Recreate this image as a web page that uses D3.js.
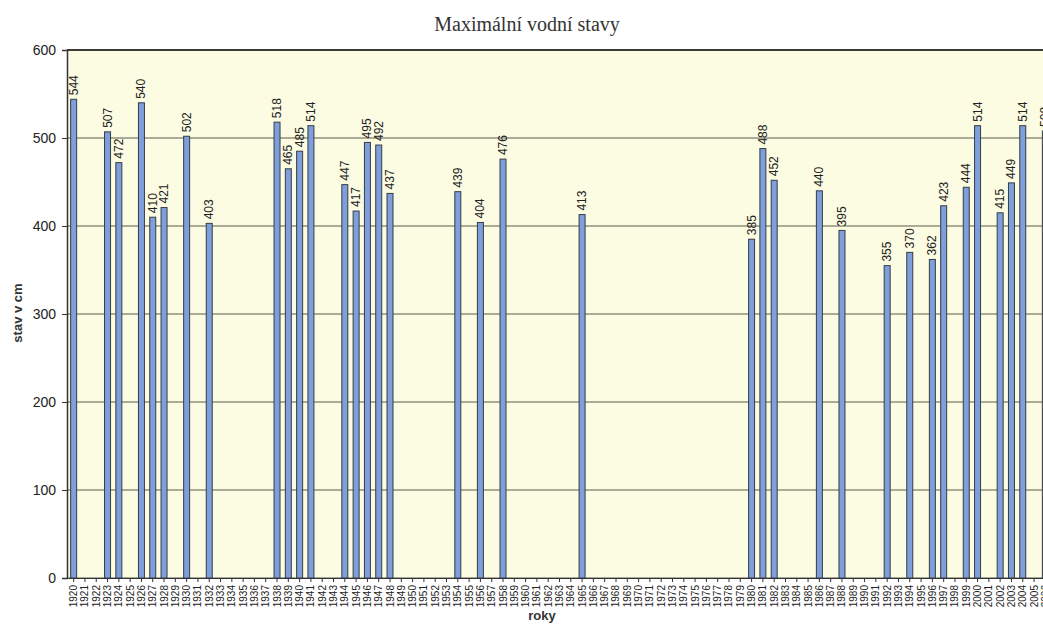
<!DOCTYPE html>
<html>
<head>
<meta charset="utf-8">
<script src="https://cdn.jsdelivr.net/npm/d3@7"></script>
<style>
  body { margin: 0; background: #fff; }
  svg { display: block; }
</style>
</head>
<body>
<svg class="chart" width="1043" height="625"></svg>
<script>
// years shown on the axis
var years = d3.range(1920, 2007);

// years that have a value and their maximal levels
var floodYears = [1920, 1923, 1924, 1926, 1927, 1928, 1930, 1932, 1938, 1939, 1940, 1941,
    1944, 1945, 1946, 1947, 1948, 1954, 1956, 1958, 1965, 1980, 1981, 1982,
    1986, 1988, 1992, 1994, 1996, 1997, 1999, 2000, 2002, 2003, 2004, 2006];
var levels = [544, 507, 472, 540, 410, 421, 502, 403, 518, 465, 485, 514,
    447, 417, 495, 492, 437, 439, 404, 476, 413, 385, 488, 452,
    440, 395, 355, 370, 362, 423, 444, 514, 415, 449, 514, 508];

var yTicks = [0, 100, 200, 300, 400, 500, 600];

var data = floodYears.map(function(y, i) { return {year: y, value: levels[i]}; });

var svg = d3.select("svg.chart");

// plot box (window.top is read-only, so own names)
var plotL = 67, plotT = 50, plotB = 578, plotR = 1051;

var x = d3.scaleBand()
    .domain(years)
    .range([plotL + 1, plotR])
    .paddingInner(0.47)
    .paddingOuter(0.235);

var y = d3.scaleLinear()
    .domain([0, 600])
    .range([plotB, plotT]);

// plot background
svg.append("rect")
    .attr("x", plotL).attr("y", plotT)
    .attr("width", plotR - plotL).attr("height", plotB - plotT)
    .attr("fill", "#fcfce2");

// gridlines
svg.append("g").selectAll("line")
    .data(yTicks)
    .enter().append("line")
    .attr("x1", plotL).attr("x2", plotR)
    .attr("y1", function(d) { return y(d); })
    .attr("y2", function(d) { return y(d); })
    .attr("stroke", function(d) { return d == 600 ? "#3c3c36" : "#5a5a4c"; })
    .attr("stroke-width", function(d) { return d == 600 ? 1.8 : 1; });

// bars
svg.append("g").selectAll("rect")
    .data(data)
    .enter().append("rect")
    .attr("x", function(d) { return x(d.year); })
    .attr("y", function(d) { return y(d.value); })
    .attr("width", x.bandwidth())
    .attr("height", function(d) { return y(0) - y(d.value); })
    .attr("fill", "#7f9fdb")
    .attr("stroke", "#363b48")
    .attr("stroke-width", 1);

// value labels
svg.append("g").selectAll("text")
    .data(data)
    .enter().append("text")
    .attr("transform", function(d) {
        return "translate(" + (x(d.year) + x.bandwidth() / 2 + 4) + "," + (y(d.value) - 4) + ") rotate(-90)";
    })
    .attr("font-family", "Liberation Sans, Arial, sans-serif")
    .attr("font-size", 12)
    .attr("fill", "#222")
    .text(function(d) { return d.value; });

// y axis
var yAxis = svg.append("g")
    .attr("transform", "translate(" + plotL + ",0)")
    .call(d3.axisLeft(y).tickValues(yTicks).tickSize(5).tickPadding(6));
yAxis.select(".domain").attr("stroke", "#333").attr("stroke-width", 1.5);
yAxis.selectAll(".tick line").attr("stroke", "#333");
yAxis.selectAll("text")
    .attr("font-family", "Liberation Sans, Arial, sans-serif")
    .attr("font-size", 14)
    .attr("fill", "#222");

// x axis
var xAxis = svg.append("g")
    .attr("transform", "translate(0," + plotB + ")")
    .call(d3.axisBottom(x).tickSize(4).tickSizeOuter(0));
xAxis.select(".domain").attr("stroke", "#333");
xAxis.selectAll(".tick line").attr("stroke", "#333");
xAxis.selectAll("text")
    .attr("font-family", "Liberation Sans, Arial, sans-serif")
    .attr("font-size", 10)
    .attr("fill", "#222")
    .attr("text-anchor", "end")
    .attr("transform", "translate(3.5,7) rotate(-90)")
    .attr("x", 0).attr("y", 0).attr("dy", "0");

// title
svg.append("text")
    .attr("x", 527).attr("y", 31)
    .attr("text-anchor", "middle")
    .attr("font-family", "Liberation Serif, Times New Roman, serif")
    .attr("font-size", 20)
    .attr("fill", "#333")
    .text("Maximální vodní stavy");

// axis titles
svg.append("text")
    .attr("transform", "translate(22,313) rotate(-90)")
    .attr("text-anchor", "middle")
    .attr("font-family", "Liberation Sans, Arial, sans-serif")
    .attr("font-weight", "bold")
    .attr("font-size", 13)
    .attr("fill", "#333")
    .text("stav v cm");

svg.append("text")
    .attr("x", 542).attr("y", 620)
    .attr("text-anchor", "middle")
    .attr("font-family", "Liberation Sans, Arial, sans-serif")
    .attr("font-weight", "bold")
    .attr("font-size", 13)
    .attr("fill", "#333")
    .text("roky");
</script>
</body>
</html>
